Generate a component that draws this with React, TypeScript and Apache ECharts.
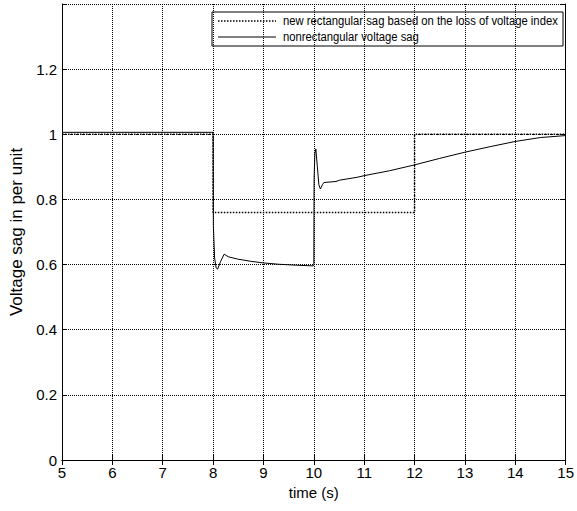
import React, { useEffect, useRef } from "react";
import * as echarts from "echarts";

const xTicks = [5, 6, 7, 8, 9, 10, 11, 12, 13, 14, 15];
const yTickLabels = ["0", "0.2", "0.4", "0.6", "0.8", "1", "1.2"];

const legendNames = [
  "new rectangular sag based on the loss of voltage index",
  "nonrectangular voltage sag",
];

// rectangular sag (dotted)
const rectTime = [5, 8, 8, 12, 12, 15];
const rectValue = [1.0, 1.0, 0.76, 0.76, 1.0, 1.0];

// nonrectangular sag (solid)
const sagTime = [
  5, 8, 8.005, 8.03, 8.06, 8.09, 8.15, 8.22, 8.3, 8.48, 8.75, 9.0, 9.3, 9.66, 9.99,
  10.0, 10.005, 10.02, 10.04, 10.07, 10.1, 10.13, 10.17, 10.2, 10.44, 10.51, 10.86,
  11.0, 11.5, 12.0, 12.5, 13.0, 13.5, 14.0, 14.5, 15.0,
];
const sagValue = [
  1.006, 1.006, 0.72, 0.62, 0.59, 0.586, 0.61, 0.632, 0.624, 0.617, 0.61, 0.605, 0.601, 0.598, 0.596,
  0.6, 0.86, 0.94, 0.955, 0.9, 0.845, 0.832, 0.845, 0.852, 0.855, 0.859, 0.868,
  0.873, 0.888, 0.906, 0.926, 0.945, 0.962, 0.978, 0.99, 0.996,
];

const FONT = "Liberation Sans";

export default function App() {
  const ref = useRef<HTMLDivElement>(null);
  useEffect(() => {
    if (!ref.current) return;
    document.body.style.margin = "0";
    const chart = echarts.init(ref.current, null, { renderer: "svg" });
    const gridLine = { show: true, lineStyle: { color: "#000", type: "dotted" as const, width: 1 } };
    const axisLine = { show: true, lineStyle: { color: "#000", width: 1 } };
    const tick = { show: true, inside: true, length: 5, lineStyle: { color: "#000" } };
    const legendText = (text: string, y: number) => ({
      type: "text",
      x: 283,
      y,
      scaleX: 0.835,
      style: {
        text,
        font: `13.5px "${FONT}"`,
        fill: "#000",
        verticalAlign: "middle",
      },
    });
    chart.setOption({
      animation: false,
      backgroundColor: "#fff",
      grid: { left: 59, right: 8, top: 4, bottom: 51, containLabel: false },
      xAxis: [
        {
          type: "value",
          min: xTicks[0],
          max: xTicks[xTicks.length - 1],
          interval: 1,
          name: "time (s)",
          nameLocation: "middle",
          nameGap: 24,
          nameTextStyle: { fontFamily: FONT, fontSize: 15, color: "#000" },
          axisLine,
          axisTick: tick,
          splitLine: gridLine,
          axisLabel: { fontFamily: FONT, fontSize: 15, color: "#000", margin: 5 },
        },
        {
          type: "value",
          position: "top",
          min: xTicks[0],
          max: xTicks[xTicks.length - 1],
          interval: 1,
          axisLine,
          axisTick: tick,
          splitLine: { show: false },
          axisLabel: { show: false },
        },
      ],
      yAxis: [
        {
          type: "value",
          min: 0,
          max: 1.4,
          interval: 0.2,
          name: "Voltage sag in per unit",
          nameLocation: "middle",
          nameGap: 37,
          nameTextStyle: { fontFamily: FONT, fontSize: 17, color: "#000" },
          axisLine,
          axisTick: tick,
          splitLine: gridLine,
          axisLabel: {
            fontFamily: FONT,
            fontSize: 15,
            color: "#000",
            margin: 5,
            formatter: (v: number) => {
              const i = Math.round(v / 0.2);
              return yTickLabels[i] ?? "";
            },
          },
        },
        {
          type: "value",
          position: "right",
          min: 0,
          max: 1.4,
          interval: 0.2,
          axisLine,
          axisTick: tick,
          splitLine: { show: false },
          axisLabel: { show: false },
        },
      ],
      series: [
        {
          name: legendNames[0],
          type: "line",
          data: rectTime.map((t, i) => [t, rectValue[i]]),
          showSymbol: false,
          symbol: "none",
          lineStyle: { color: "#000", width: 1.5, type: "dotted" },
          z: 3,
        },
        {
          name: legendNames[1],
          type: "line",
          data: sagTime.map((t, i) => [t, sagValue[i]]),
          showSymbol: false,
          symbol: "none",
          lineStyle: { color: "#000", width: 1 },
          z: 4,
        },
      ],
      graphic: [
        {
          type: "group",
          z: 100,
          children: [
            {
              type: "rect",
              shape: { x: 212, y: 12, width: 351, height: 34 },
              style: { fill: "#fff", stroke: "#000", lineWidth: 1 },
            },
            {
              type: "line",
              shape: { x1: 218, y1: 21, x2: 276, y2: 21 },
              style: { stroke: "#000", lineWidth: 1.5, lineDash: [1.5, 1.5] },
            },
            legendText(legendNames[0], 21),
            {
              type: "line",
              shape: { x1: 218, y1: 37, x2: 276, y2: 37 },
              style: { stroke: "#000", lineWidth: 1 },
            },
            legendText(legendNames[1], 37),
          ],
        },
      ],
    });
    return () => chart.dispose();
  }, []);
  return <div ref={ref} style={{ width: 577, height: 511 }} />;
}
